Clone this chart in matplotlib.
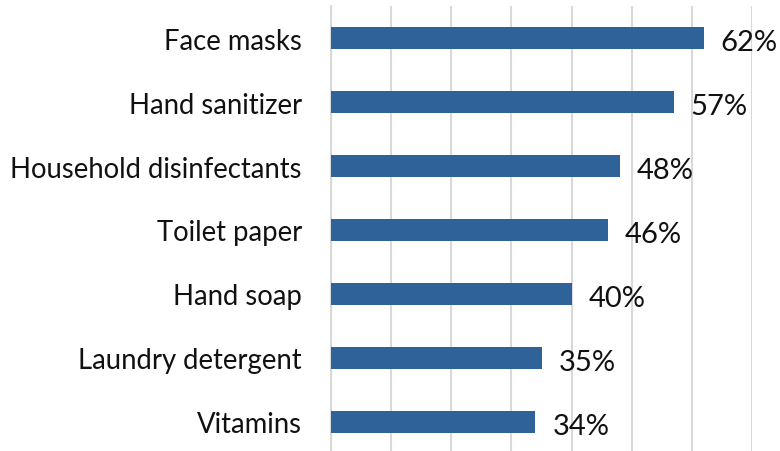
import matplotlib.pyplot as plt

categories = ["Face masks", "Hand sanitizer", "Household disinfectants",
              "Toilet paper", "Hand soap", "Laundry detergent", "Vitamins"]
values = [62, 57, 48, 46, 40, 35, 34]

plt.rcParams['font.family'] = ['Lato', 'DejaVu Sans']

W, H = 780, 452
fig = plt.figure(figsize=(W / 100, H / 100), dpi=100)
# axes box in pixels: left 331, right 752, top 7, bottom 455 (runs past the canvas)
ax = fig.add_axes([331 / W, (H - 455) / H, (752 - 331) / W, (455 - 7) / H])

pos = list(range(len(categories)))[::-1]
ax.barh(pos, values, height=0.34, color="#2E6299", zorder=3)

for p, v in zip(pos, values):
    ax.text(v + 2.8, p - 0.06, f"{v}%", va="center", ha="left",
            fontsize=21, color="#111111")

ax.set_xlim(0, 70)
ax.set_ylim(-0.5, 6.5)
ax.set_xticks(range(0, 71, 10))
ax.set_xticklabels([])
ax.set_yticks(pos)
ax.set_yticklabels(categories, fontsize=19.8, color="#111111")
ax.tick_params(axis="both", length=0)
ax.tick_params(axis="y", pad=21)
ax.grid(axis="x", color="#d9d9d9", linewidth=1.5, zorder=0)
for s in ["top", "right", "bottom"]:
    ax.spines[s].set_visible(False)
ax.spines["left"].set_color("#d9d9d9")
ax.spines["left"].set_linewidth(1.5)

fig.savefig("out.png", dpi=100)
